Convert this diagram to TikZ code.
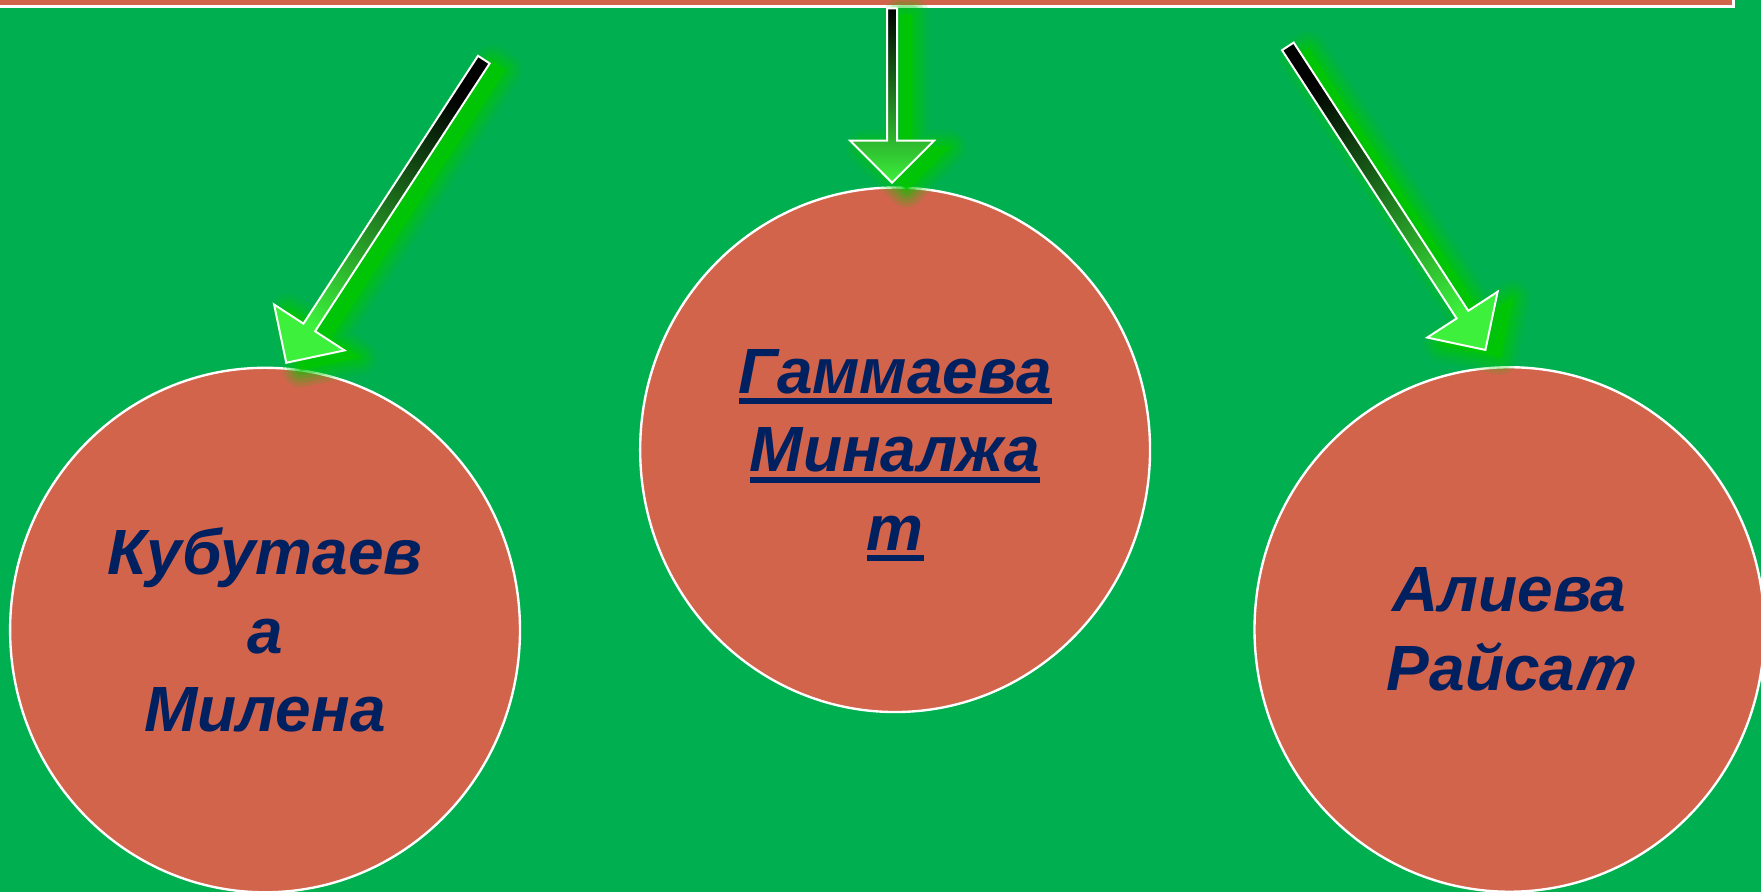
\documentclass[tikz,border=0pt]{standalone}
\usepackage{fontspec}
\setmainfont{Liberation Sans}
\newfontfamily\slantfont[FakeSlant=0.2]{Liberation Sans}
\usetikzlibrary{shapes.geometric,calc}
\definecolor{bggreen}{HTML}{00B050}
\definecolor{brick}{HTML}{D1644B}
\definecolor{navy}{HTML}{002060}
\definecolor{headgreen}{HTML}{3CF03C}
\definecolor{glowgreen}{HTML}{00C800}

\newcommand\undl[1]{\setbox0=\hbox{#1}\rlap{\copy0}\smash{\raisebox{-2.8pt}{\rule{\wd0}{1.5pt}}}}
\newcommand\shaftw{0.05cm}
\newcommand\headw{0.374cm}
% outline of a block arrow from #1 to #2
\newcommand\arrowpath[2]{($(#1)!\shaftw!90:(#2)$) -- ($(#1h)!\shaftw!90:(#2)$) -- ($(#1h)!\headw!90:(#2)$) -- (#2)
  -- ($(#1h)!\headw!-90:(#2)$) -- ($(#1h)!\shaftw!-90:(#2)$) -- ($(#1)!\shaftw!-90:(#2)$) -- cycle}
\newcommand\blockarrow[3]{%
  \coordinate (#1h) at ($(#2)!0.375cm!(#1)$);
  \begin{scope}[transform canvas={shift={(0.13,-0.06)}}]
  \foreach \lw/\op in {9/0.12,7/0.16,5/0.22,3/0.3,1/0.45}
    \filldraw[glowgreen, line width=\lw pt, line join=round, opacity=\op] \arrowpath{#1}{#2};
  \end{scope}
  \draw[draw=white, line width=0.5pt, top color=black, bottom color=headgreen, shading angle=#3] \arrowpath{#1}{#2};
}

\begin{document}
\begin{tikzpicture}[
  namecircle/.style={ellipse, draw=white, line width=0.6pt, fill=brick, minimum width=4.54cm, minimum height=4.67cm,
    inner sep=0pt, align=center, text=navy, font=\fontsize{16.2}{19.9}\selectfont\bfseries\itshape},
  topbar/.style={rectangle, draw=white, line width=0.8pt, fill=brick, inner sep=0pt}]
\useasboundingbox (0,0) rectangle (15.68,7.94);
\clip (0,0) rectangle (15.68,7.94);
\fill[bggreen] (0,0) rectangle (15.68,7.94);

\node[namecircle] (kub) at (2.36,2.33) {Кубутаев\\а\\Милена};
\node[namecircle] (gam) at (7.97,3.935) {\undl{Гаммаева}\\\undl{Миналжа}\\\undl{т}};
\node[namecircle] (ali) at (13.44,2.335) {Алиева\\Райса{\slantfont\bfseries т}};
\node[topbar, minimum width=15.6cm, minimum height=0.4cm, anchor=south east] (bar) at (15.45,7.865) {};

% arrows
\coordinate (s1) at (4.308,7.409);
\coordinate (e1) at (2.549,4.71);
\coordinate (s2) at (7.943,7.865);
\coordinate (e2) at (7.943,6.313);
\coordinate (s3) at (11.467,7.527);
\coordinate (e3) at (13.226,4.824);
\renewcommand\shaftw{0.062cm}
\blockarrow{s1}{e1}{-33}
\blockarrow{s3}{e3}{33}
\renewcommand\shaftw{0.045cm}
\blockarrow{s2}{e2}{0}
\end{tikzpicture}
\end{document}
